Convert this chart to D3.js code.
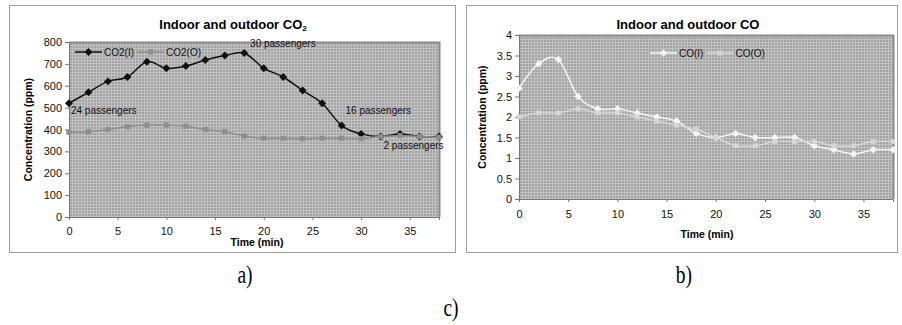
<!DOCTYPE html>
<html>
<head>
<meta charset="utf-8">
<script src="https://cdn.jsdelivr.net/npm/d3@7"></script>
<style>
  body { margin: 0; background: #fff; }
  svg { display: block; font-family: "Liberation Sans", Arial, sans-serif; }
</style>
</head>
<body>
<svg id="chart" width="902" height="325"></svg>
<script>
// time axis (min), one reading every 2 minutes
const times = [0, 2, 4, 6, 8, 10, 12, 14, 16, 18, 20, 22, 24, 26, 28, 30, 32, 34, 36, 38];
const co2Indoor = [520, 570, 620, 640, 710, 680, 690, 718, 738, 750, 680, 640, 578, 520, 418, 380, 368, 380, 368, 368];
const co2Outdoor = [387, 390, 400, 413, 420, 420, 415, 400, 390, 370, 360, 360, 358, 360, 360, 358, 368, 372, 368, 365];
const coIndoor = [2.7, 3.3, 3.4, 2.5, 2.2, 2.2, 2.1, 2.0, 1.9, 1.6, 1.5, 1.6, 1.5, 1.5, 1.5, 1.3, 1.2, 1.1, 1.2, 1.2];
const coOutdoor = [2.0, 2.1, 2.1, 2.2, 2.1, 2.1, 2.0, 1.9, 1.8, 1.7, 1.5, 1.3, 1.3, 1.4, 1.4, 1.4, 1.3, 1.3, 1.4, 1.4];
const xTicks = [0, 5, 10, 15, 20, 25, 30, 35];
const co2Ticks = [0, 100, 200, 300, 400, 500, 600, 700, 800];
const coTicks = [0, 0.5, 1, 1.5, 2, 2.5, 3, 3.5, 4];
const co2Notes = [
  {t: 0.2, v: 470, text: '24 passengers'},
  {t: 18.6, v: 775, text: '30 passengers'},
  {t: 28.4, v: 470, text: '16 passengers'},
  {t: 32.3, v: 310, text: '2 passengers'}
];

const svg = d3.select('#chart');

// hatched plot background
const pat = svg.append('defs').append('pattern')
  .attr('id', 'mesh').attr('width', 3).attr('height', 3)
  .attr('patternUnits', 'userSpaceOnUse');
pat.append('rect').attr('width', 3).attr('height', 3).attr('fill', '#a2a2a2');
pat.append('rect').attr('width', 3).attr('height', 1).attr('fill', '#c2c2c2');
pat.append('rect').attr('width', 1).attr('height', 3).attr('fill', '#c2c2c2');

function drawPanel(cfg) {
  const g = svg.append('g');
  const b = cfg.box;
  g.append('rect')
    .attr('x', b[0] + 0.5).attr('y', b[1] + 0.5)
    .attr('width', b[2] - b[0]).attr('height', b[3] - b[1])
    .attr('fill', '#fff').attr('stroke', '#a0a0a0');

  const x = d3.scaleLinear().domain([0, 38]).range([cfg.plot.left, cfg.plot.right]);
  const y = d3.scaleLinear().domain([0, cfg.yMax]).range([cfg.plot.bottom, cfg.plot.top]);

  g.append('rect')
    .attr('x', x(0)).attr('y', y(cfg.yMax))
    .attr('width', x(38) - x(0)).attr('height', y(0) - y(cfg.yMax))
    .attr('fill', 'url(#mesh)');
  // darker frame on top and right
  g.append('path')
    .attr('d', `M${x(0)},${y(cfg.yMax) + 0.5}H${x(38) + 0.5}V${y(0)}`)
    .attr('fill', 'none').attr('stroke', '#8a8a8a').attr('stroke-width', 2);

  const yAxis = g.append('g')
    .attr('transform', `translate(${x(0)},0)`)
    .call(d3.axisLeft(y).tickValues(cfg.yTicks).tickSize(4).tickPadding(3).tickFormat(d3.format('')));
  const xAxis = g.append('g')
    .attr('transform', `translate(0,${y(0)})`)
    .call(d3.axisBottom(x).tickValues(xTicks).tickSize(3).tickPadding(cfg.xPad).tickFormat(d3.format('')));
  [yAxis, xAxis].forEach(a => {
    a.select('.domain').attr('stroke', '#777');
    a.selectAll('.tick line').attr('stroke', '#777');
    a.selectAll('text').attr('fill', '#111').style('font-size', '11px');
  });

  g.append('text')
    .attr('x', cfg.titleX).attr('y', 29)
    .attr('text-anchor', 'middle')
    .style('font-size', '13px').style('font-weight', 'bold')
    .text(cfg.title).append('tspan').attr('font-size', '8px').attr('dy', 2).text(cfg.titleSub);

  g.append('text')
    .attr('transform', `translate(${cfg.yLabelX},${(y(0) + y(cfg.yMax)) / 2}) rotate(-90)`)
    .attr('text-anchor', 'middle')
    .style('font-size', '10.5px').style('font-weight', 'bold')
    .text('Concentration (ppm)');

  g.append('text')
    .attr('x', cfg.xLabelX).attr('y', cfg.xLabelY)
    .attr('text-anchor', 'middle')
    .style('font-size', '10.5px').style('font-weight', 'bold')
    .text('Time (min)');

  const line = d3.line()
    .x((d, i) => x(times[i]))
    .y(d => y(d))
    .curve(d3.curveCatmullRom.alpha(0));

  cfg.series.forEach(s => {
    g.append('path')
      .datum(s.values)
      .attr('d', line)
      .attr('fill', 'none')
      .attr('stroke', s.color)
      .attr('stroke-width', 1.5);
    const sym = d3.symbol().type(s.shape === 'diamond' ? d3.symbolDiamond2 : d3.symbolSquare2).size(s.size);
    g.selectAll(null)
      .data(s.values)
      .join('path')
      .attr('transform', (d, i) => `translate(${x(times[i])},${y(d)})`)
      .attr('d', sym)
      .attr('fill', s.color);
  });

  // legend
  const lg = g.append('g').attr('transform', `translate(${cfg.legend[0]},${cfg.legend[1]})`);
  let lx = 0;
  cfg.series.forEach(s => {
    lg.append('line').attr('x1', lx).attr('x2', lx + 27).attr('y1', 0).attr('y2', 0)
      .attr('stroke', s.color).attr('stroke-width', 1.5);
    lg.append('path')
      .attr('transform', `translate(${lx + 13.5},0)`)
      .attr('d', d3.symbol().type(s.shape === 'diamond' ? d3.symbolDiamond2 : d3.symbolSquare2).size(s.size))
      .attr('fill', s.color);
    const t = lg.append('text').attr('x', lx + 29).attr('y', 3.5)
      .style('font-size', '10px').attr('fill', '#111').text(s.name);
    lx += 29 + t.node().getComputedTextLength() + 3;
  });

  (cfg.notes || []).forEach(n => {
    g.append('text')
      .attr('x', x(n.t)).attr('y', y(n.v))
      .style('font-size', '10px').attr('fill', '#111')
      .text(n.text);
  });

  g.append('text')
    .attr('x', cfg.tagX).attr('y', 283)
    .attr('text-anchor', 'middle')
    .style('font-family', '"Liberation Serif", "Times New Roman", serif')
    .style('font-size', '25px')
    .attr('transform', `translate(${cfg.tagX},0) scale(0.78,1) translate(${-cfg.tagX},0)`)
    .text(cfg.tag);
}

drawPanel({
  box: [9, 5, 455, 252],
  plot: {left: 69, right: 439, top: 42, bottom: 217},
  yMax: 800, yTicks: co2Ticks, xPad: 7,
  title: 'Indoor and outdoor CO', titleSub: '2', titleX: 233,
  yLabelX: 32, xLabelX: 257, xLabelY: 246,
  legend: [75, 52],
  series: [
    {name: 'CO2(I)', values: co2Indoor, color: '#111', shape: 'diamond', size: 40},
    {name: 'CO2(O)', values: co2Outdoor, color: '#8e8e8e', shape: 'square', size: 34}
  ],
  notes: co2Notes,
  tag: 'a)', tagX: 245
});

drawPanel({
  box: [466, 5, 897, 252],
  plot: {left: 519, right: 893, top: 35, bottom: 199},
  yMax: 4, yTicks: coTicks, xPad: 8,
  title: 'Indoor and outdoor CO', titleSub: '', titleX: 688,
  yLabelX: 486, xLabelX: 707, xLabelY: 238,
  legend: [650, 53],
  series: [
    {name: 'CO(I)', values: coIndoor, color: '#f4f4f4', shape: 'diamond', size: 36},
    {name: 'CO(O)', values: coOutdoor, color: '#d6d6d6', shape: 'square', size: 30}
  ],
  tag: 'b)', tagX: 684
});

svg.append('text')
  .attr('x', 451).attr('y', 316)
  .attr('text-anchor', 'middle')
  .attr('transform', 'translate(451,0) scale(0.78,1) translate(-451,0)')
  .style('font-family', '"Liberation Serif", "Times New Roman", serif')
  .style('font-size', '25px')
  .text('c)');
</script>
</body>
</html>
